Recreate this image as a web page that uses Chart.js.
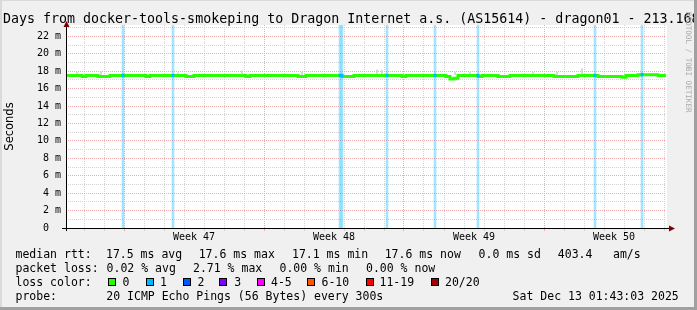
<!DOCTYPE html>
<html>
<head>
<meta charset="utf-8">
<script src="https://cdn.jsdelivr.net/npm/chart.js@4.4.1/dist/chart.umd.min.js"></script>
<style>
  html, body { margin:0; padding:0; width:697px; height:310px; overflow:hidden; background:#f0f0f0; }
  body { position:relative; font-family:'DejaVu Sans Mono', monospace; color:#000; }
  #c { position:absolute; left:0; top:0; }
  .txt { position:absolute; white-space:pre; font-size:11.5px; line-height:14px; }
  .box { position:absolute; width:8px; height:8px; box-sizing:border-box; border:1px solid #000; }
  #title { position:absolute; left:3px; top:11px; font-size:13.3px; line-height:16px; white-space:pre; }
  #wm { position:absolute; left:684.7px; top:12px; font-size:7.6px; line-height:7.6px; color:#aaa; writing-mode:vertical-rl; white-space:pre; }
  .shade { position:absolute; }
</style>
</head>
<body>
<canvas id="c" width="697" height="310"></canvas>
<div id="title"></div>
<div id="wm">RRDTOOL / TOBI OETIKER</div>
<div class="shade" style="left:0;top:0;width:697px;height:1px;background:#dadada"></div>
<div class="shade" style="left:0;top:0;width:2px;height:310px;background:#dadada"></div>
<div class="shade" style="right:0;top:0;width:3px;height:310px;background:#a0a0a0"></div>
<div class="shade" style="left:0;bottom:0;width:697px;height:3px;background:#a0a0a0"></div>
<div id="legend"></div>
<script>
// ---------------- data ----------------
const titleText = 'Days from docker-tools-smokeping to Dragon Internet a.s. (AS15614) - dragon01 - 213.168';

// median RTT (ms), one sample every 0.2 day over 30 days
const median = [
  17.5,17.5,17.5,17.5,17.5,17.4,17.5,17.5,17.5,17.4,
  17.4,17.4,17.5,17.5,17.5,17.5,17.5,17.5,17.5,17.5,
  17.5,17.4,17.5,17.5,17.5,17.5,17.5,17.5,17.5,17.5,
  17.5,17.4,17.4,17.5,17.5,17.5,17.5,17.5,17.5,17.5,
  17.5,17.5,17.5,17.5,17.5,17.5,17.4,17.5,17.5,17.5,
  17.5,17.5,17.5,17.5,17.5,17.5,17.5,17.5,17.5,17.4,
  17.4,17.5,17.5,17.5,17.5,17.5,17.5,17.5,17.5,17.5,
  17.4,17.4,17.4,17.5,17.5,17.5,17.5,17.5,17.5,17.5,
  17.5,17.5,17.5,17.5,17.5,17.4,17.5,17.5,17.5,17.5,
  17.5,17.5,17.5,17.5,17.5,17.5,17.4,17.1,17.2,17.5,
  17.5,17.5,17.5,17.5,17.4,17.5,17.5,17.5,17.5,17.4,
  17.4,17.4,17.5,17.5,17.5,17.5,17.5,17.5,17.5,17.5,
  17.5,17.5,17.5,17.4,17.4,17.4,17.4,17.4,17.4,17.5,
  17.5,17.5,17.5,17.5,17.4,17.4,17.4,17.4,17.4,17.4,
  17.3,17.5,17.5,17.5,17.6,17.6,17.6,17.6,17.6,17.5,
  17.5
];
const sampleStep = 0.2; // days between samples
const sampleDays = median.map((_, i) => Math.round(i * sampleStep * 100) / 100);

// packet loss events (day offset, pings lost of 20, median rtt at that time)
const lossDays  = [2.85, 5.35, 13.7, 13.8, 16.05, 18.45, 20.6, 26.45, 28.8];
const lossPings = [1, 1, 1, 1, 1, 1, 1, 1, 1];
const lossRtt   = [17.5, 17.5, 17.5, 17.5, 17.5, 17.5, 17.5, 17.5, 17.6];

// faint smoke spikes above the median
const smokeDays = [0.55, 1.75, 5.6, 8.8, 11.8, 15.55, 15.8, 19.45, 20.2, 23.35, 24.55, 25.8];
const smokeLow  = [17.6, 17.6, 17.6, 17.6, 17.6, 17.6, 17.6, 17.6, 17.6, 17.6, 17.6, 17.6];
const smokeHigh = [17.9, 17.95, 17.8, 18.05, 17.9, 18.15, 18.1, 17.9, 17.85, 17.9, 17.9, 18.3];

// x axis
const dayLines   = [0.9,1.9,2.9,3.9,4.9,5.9,6.9,7.9,8.9,9.9,10.9,11.9,12.9,13.9,14.9,15.9,16.9,17.9,18.9,19.9,20.9,21.9,22.9,23.9,24.9,25.9,26.9,27.9,28.9,29.9];
const weekStarts = [2.9, 9.9, 16.9, 23.9];
const weekLabels = ['Week 47', 'Week 48', 'Week 49', 'Week 50'];
const xMin = 0, xMax = 30;

// y axis
const yTickValues = [0,1,2,3,4,5,6,7,8,9,10,11,12,13,14,15,16,17,18,19,20,21,22,23];
const yTickLabels = ['0  ','','2 m','','4 m','','6 m','','8 m','','10 m','','12 m','','14 m','','16 m','','18 m','','20 m','','22 m',''];
const yMax = 23.3;

// legend texts
const rttStats  = { avg: 17.5, max: 17.6, min: 17.1, now: 17.6, sd: 0.0, amps: 403.4 };
const lossStats = { avg: 0.02, max: 2.71, min: 0.00, now: 0.00 };
const lossLegendLabels = ['0', '1', '2', '3', '4-5', '6-10', '11-19', '20/20'];
const probeText = '20 ICMP Echo Pings (56 Bytes) every 300s';
const dateText  = 'Sat Dec 13 01:43:03 2025';

// ---------------- styles ----------------
const lossColors = ['#26ff00', '#00b8ff', '#0059ff', '#7e00ff', '#ff00ff', '#ff5500', '#ff0000', '#a10000'];
const gridGray = '#d2d2d2';
const gridRed  = '#f0acac';
const arrowColor = '#7f0000';

// ---------------- text (HTML) ----------------
document.getElementById('title').textContent = titleText;
const legend = document.getElementById('legend');
function addText(str, left, top) {
  const d = document.createElement('div');
  d.className = 'txt';
  d.style.left = left + 'px';
  d.style.top = top + 'px';
  d.textContent = str;
  legend.appendChild(d);
}
const rows = [247.3, 261, 275, 288.5];
const row1 = ['median rtt:', rttStats.avg.toFixed(1) + ' ms avg', rttStats.max.toFixed(1) + ' ms max',
  rttStats.min.toFixed(1) + ' ms min', rttStats.now.toFixed(1) + ' ms now', rttStats.sd.toFixed(1) + ' ms sd',
  rttStats.amps.toFixed(1), 'am/s'];
const row1x = [15.5, 106, 198.7, 292, 384.7, 478.6, 557.8, 613];
row1.forEach((s, i) => addText(s, row1x[i], rows[0]));
const row2 = ['packet loss:', lossStats.avg.toFixed(2) + ' % avg', lossStats.max.toFixed(2) + ' % max',
  lossStats.min.toFixed(2) + ' % min', lossStats.now.toFixed(2) + ' % now'];
const row2x = [15.5, 106.6, 193, 279.5, 366];
row2.forEach((s, i) => addText(s, row2x[i], rows[1]));
addText('loss color:', 15.5, rows[2]);
const boxX = [108.3, 145.7, 182.7, 219.3, 256.7, 307.3, 365.7, 431];
const lblX = [122.6, 160, 197.6, 234.3, 271, 321.5, 379.5, 445];
lossLegendLabels.forEach((s, i) => {
  const b = document.createElement('div');
  b.className = 'box';
  b.style.left = boxX[i] + 'px';
  b.style.top = '278px';
  b.style.background = lossColors[i];
  legend.appendChild(b);
  addText(s, lblX[i], rows[2]);
});
addText('probe:', 15.5, rows[3]);
addText(probeText, 106.3, rows[3]);
addText(dateText, 512.6, rows[3]);

// ---------------- chart ----------------
Chart.defaults.font.family = "'DejaVu Sans Mono', monospace";
Chart.defaults.color = '#000';

const isWeek = v => weekStarts.some(w => Math.abs(w - v) < 1e-6);

const decor = {
  id: 'decor',
  beforeDraw(chart) {
    const { ctx, chartArea: a } = chart;
    ctx.save();
    ctx.fillStyle = '#ffffff';
    ctx.fillRect(a.left, a.top, a.right - a.left + 1, a.bottom - a.top);
    ctx.restore();
  },
  afterDatasetsDraw(chart) {
    const { ctx, chartArea: a } = chart;
    ctx.save();
    ctx.strokeStyle = '#000';
    ctx.lineWidth = 1;
    const yb = Math.round(a.bottom) + 0.5;
    const xl = Math.round(a.left) + 0.5;
    ctx.beginPath();
    ctx.moveTo(a.left - 4, yb);
    ctx.lineTo(a.right + 3, yb);
    ctx.moveTo(xl, a.bottom + 3);
    ctx.lineTo(xl, a.top + 2);
    ctx.stroke();
    ctx.fillStyle = arrowColor;
    ctx.beginPath();
    ctx.moveTo(a.right + 3, yb - 3);
    ctx.lineTo(a.right + 9, yb);
    ctx.lineTo(a.right + 3, yb + 3);
    ctx.closePath();
    ctx.fill();
    ctx.beginPath();
    ctx.moveTo(xl - 3, a.top + 2);
    ctx.lineTo(xl, a.top - 4);
    ctx.lineTo(xl + 3, a.top + 2);
    ctx.closePath();
    ctx.fill();
    ctx.restore();
  }
};

new Chart(document.getElementById('c'), {
  type: 'line',
  data: {
    datasets: [
      {
        type: 'bar', label: 'loss',
        data: lossDays.map((d, i) => ({ x: d, y: lossPings[i] > 0 ? 1 : 0 })),
        xAxisID: 'x', yAxisID: 'yLoss',
        backgroundColor: 'rgba(0,184,255,0.36)',
        barThickness: 2, grouped: false, order: 4
      },
      {
        type: 'bar', label: 'smoke',
        data: smokeDays.map((d, i) => ({ x: d, y: [smokeLow[i], smokeHigh[i]] })),
        xAxisID: 'x', yAxisID: 'y',
        backgroundColor: '#d2d2d2',
        barThickness: 1, grouped: false, order: 3
      },
      {
        type: 'line', label: 'median',
        data: sampleDays.map((d, i) => ({ x: d, y: median[i] })),
        xAxisID: 'x', yAxisID: 'y',
        borderColor: lossColors[0], borderWidth: 3,
        stepped: 'after', pointRadius: 0, fill: false,
        borderCapStyle: 'butt', borderJoinStyle: 'miter', order: 2
      },
      {
        type: 'bar', label: 'median loss colour',
        data: lossDays.map((d, i) => ({ x: d, y: [lossRtt[i] - 0.17, lossRtt[i] + 0.17] })),
        xAxisID: 'x', yAxisID: 'y',
        backgroundColor: lossDays.map((d, i) => lossColors[Math.min(lossPings[i], 7)]),
        barThickness: 2, grouped: false, order: 1
      }
    ]
  },
  options: {
    responsive: false,
    animation: false,
    devicePixelRatio: 1,
    layout: { padding: { left: 0, right: 31, top: 25, bottom: 62 } },
    plugins: { legend: { display: false }, tooltip: { enabled: false }, title: { display: false } },
    scales: {
      x: {
        type: 'linear', position: 'bottom', min: xMin, max: xMax, offset: false,
        afterBuildTicks: s => { s.ticks = dayLines.map(v => ({ value: v })); },
        afterFit: s => { s.height = 0; },
        ticks: { display: false, autoSkip: false },
        grid: {
          offset: false, lineWidth: 1, drawTicks: true, tickLength: 3,
          color: c => isWeek(c.tick.value) ? gridRed : gridGray
        },
        border: { display: false, dash: [1, 1] }
      },
      x2: {
        type: 'linear', position: 'bottom', min: xMin, max: xMax, offset: false,
        afterBuildTicks: s => { s.ticks = weekStarts.map(v => ({ value: v + 3.5 })); },
        afterFit: s => { s.height = 20; },
        ticks: {
          autoSkip: false, maxRotation: 0, padding: 3,
          font: { family: "'DejaVu Sans Mono', monospace", size: 10 },
          color: '#000',
          callback: (v, i) => weekLabels[i]
        },
        grid: { display: false, drawTicks: false },
        border: { display: false }
      },
      y: {
        type: 'linear', position: 'left', min: 0, max: yMax,
        afterBuildTicks: s => { s.ticks = yTickValues.map(v => ({ value: v })); },
        afterFit: s => { s.width = 66; },
        ticks: {
          autoSkip: false, padding: 5,
          font: { family: "'DejaVu Sans Mono', monospace", size: 10 },
          color: '#000',
          callback: (v, i) => yTickLabels[i]
        },
        grid: {
          drawTicks: false, lineWidth: 1,
          color: c => (c.tick && c.tick.value % 2 === 0) ? gridRed : gridGray
        },
        border: { display: false, dash: [1, 1] },
        title: {
          display: true, text: 'Seconds', color: '#000',
          font: { family: "'DejaVu Sans', sans-serif", size: 11.5 },
          padding: { top: 3, bottom: 0 }
        }
      },
      yLoss: { type: 'linear', min: 0, max: 1, display: false }
    }
  },
  plugins: [decor]
});
</script>
</body>
</html>
